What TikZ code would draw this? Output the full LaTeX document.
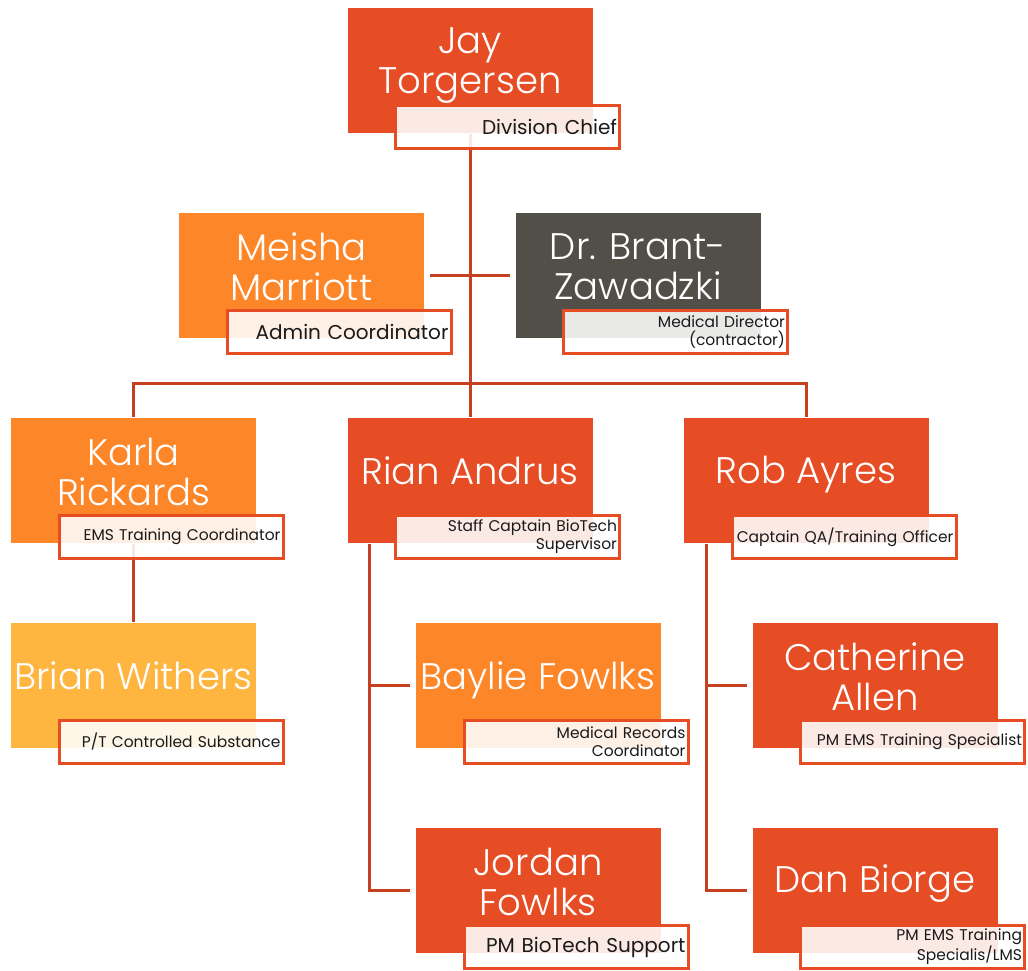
\documentclass[tikz,border=0pt]{standalone}
\usepackage{fontspec}
\setmainfont{Poppins}
\newfontfamily\namefont{Poppins Light}
\usetikzlibrary{positioning, calc, backgrounds}

\definecolor{chiefred}{HTML}{E64D25}
\definecolor{staffor}{HTML}{FD8628}
\definecolor{parttime}{HTML}{FEB640}
\definecolor{drgray}{HTML}{524F48}
\definecolor{connred}{HTML}{C4401F}
\definecolor{roletext}{HTML}{1A1A1A}

\tikzset{
  person/.style={rectangle, minimum width=246pt, minimum height=126pt,
                 inner sep=0pt, draw=white, line width=0.6pt},
  nametext/.style={text=white, align=center, inner sep=0pt,
                   font=\namefont\fontsize{37}{40}\selectfont},
  rolebox/.style={rectangle, draw=chiefred, line width=3pt,
                  fill=white, fill opacity=0.88, text opacity=1,
                  minimum width=224pt, minimum height=43pt,
                  text width=219pt, align=right, inner xsep=2.5pt, inner ysep=4pt,
                  text=roletext, font=\fontsize{20}{22}\selectfont},
  rolesmall/.style={rolebox, font=\fontsize{15.5}{18}\selectfont},
  conn/.style={draw=connred, line width=3pt},
}

\begin{document}
\begin{tikzpicture}[x=1pt, y=-1pt]
  \useasboundingbox (0,0) rectangle (1028,971);

  % top: division chief
  \node[person, fill=chiefred] (jay) at (470,70) {};
  \node[nametext] (jayN) at ([yshift=4pt]jay.center) {Jay\\Torgersen};
  \node[rolebox] (jayR) at ([shift={(37.5,57)}]jay.center) {Division Chief};

  % second row: admin and medical director
  \node[person, fill=staffor] (meisha) at (301.5,275) {};
  \node[nametext] (meishaN) at ([yshift=8pt]meisha.center) {Meisha\\Marriott};
  \node[rolebox] (meishaR) at ([shift={(37.5,57)}]meisha.center) {Admin Coordinator};

  \node[person, fill=drgray] (dr) at (638,275) {};
  \node[nametext] (drN) at ([yshift=8pt]dr.center) {Dr. Brant-\\Zawadzki};
  \node[rolesmall] (drR) at ([shift={(37.5,57)}]dr.center) {Medical Director\\(contractor)};

  % third row: coordinators and captains
  \node[person, fill=staffor] (karla) at (133.5,480) {};
  \node[nametext] (karlaN) at ([yshift=8pt]karla.center) {Karla\\Rickards};
  \node[rolesmall] (karlaR) at ([shift={(37.5,57)}]karla.center) {EMS Training Coordinator};

  \node[person, fill=chiefred] (rian) at (470,480) {};
  \node[nametext] (rianN) at ([yshift=9pt]rian.center) {Rian Andrus};
  \node[rolesmall] (rianR) at ([shift={(37.5,57)}]rian.center) {Staff Captain BioTech\\Supervisor};

  \node[person, fill=chiefred] (rob) at (806,480) {};
  \node[nametext] (robN) at ([yshift=5pt]rob.center) {Rob Ayres};
  \node[rolesmall] (robR) at ([shift={(38,57)}]rob.center) {Captain QA/Training Officer};

  % fourth row
  \node[person, fill=parttime] (brian) at (133.5,685) {};
  \node[nametext] (brianN) at ([yshift=9pt]brian.center) {Brian Withers};
  \node[rolesmall] (brianR) at ([shift={(37.5,57)}]brian.center) {P/T Controlled Substance};

  \node[person, fill=staffor] (baylie) at (538,685) {};
  \node[nametext] (baylieN) at ([yshift=5pt]baylie.center) {Baylie Fowlks};
  \node[rolesmall] (baylieR) at ([shift={(38,57)}]baylie.center) {Medical Records\\Coordinator};

  \node[person, fill=chiefred] (cath) at (875,685) {};
  \node[nametext] (cathN) at ([yshift=8pt]cath.center) {Catherine\\Allen};
  \node[rolesmall] (cathR) at ([shift={(37.5,57)}]cath.center) {PM EMS Training Specialist};

  % bottom row
  \node[person, fill=chiefred] (jordan) at (538,890) {};
  \node[nametext] (jordanN) at ([yshift=8pt]jordan.center) {Jordan\\Fowlks};
  \node[rolebox] (jordanR) at ([shift={(38,57)}]jordan.center) {PM BioTech Support};

  \node[person, fill=chiefred] (dan) at (875,890) {};
  \node[nametext] (danN) at ([yshift=6pt]dan.center) {Dan Biorge};
  \node[rolesmall] (danR) at ([shift={(37.5,57)}]dan.center) {PM EMS Training\\Specialis/LMS};

  % connectors behind the boxes
  \begin{scope}[on background layer]
    \coordinate (bus) at (470,383);
    \draw[conn] (jay.south) -- (rian.north);
    \draw[conn] (karla.north) |- (bus) -| (rob.north);
    \draw[conn, shorten <=5pt, shorten >=5pt] (meisha.east) -- (dr.west);
    \draw[conn] (karla.south) -- (brian.north);
    \draw[conn] ([xshift=23pt]rian.south west) |- ([xshift=-5pt]jordan.west);
    \draw[conn] ([xshift=23pt]rian.south west |- baylie.west) -- ([xshift=-5pt]baylie.west);
    \draw[conn] ([xshift=24pt]rob.south west) |- ([xshift=-5pt]dan.west);
    \draw[conn] ([xshift=24pt]rob.south west |- cath.west) -- ([xshift=-5pt]cath.west);
  \end{scope}
\end{tikzpicture}
\end{document}
